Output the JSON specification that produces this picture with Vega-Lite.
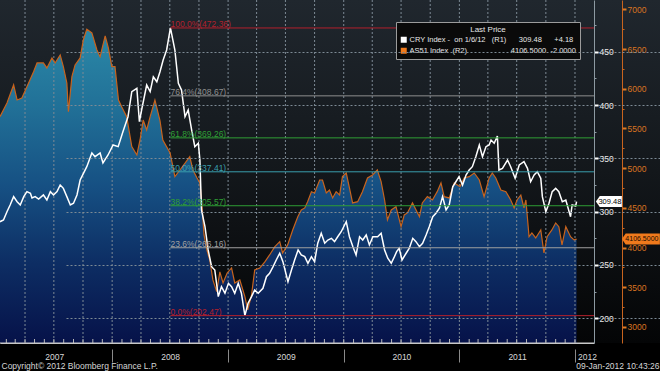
{
  "$schema": "https://vega.github.io/schema/vega-lite/v6.json",
  "width": 660,
  "height": 343,
  "autosize": {"type": "none"},
  "padding": {"left": 0, "top": 0, "right": 0, "bottom": 28},
  "background": "#000000",
  "datasets": {
    "as51": [
      {"date": "2007-01-12", "value": 5649}, {"date": "2007-02-03", "value": 5821}, {"date": "2007-02-24", "value": 6048},
      {"date": "2007-03-07", "value": 5859}, {"date": "2007-03-22", "value": 5884}, {"date": "2007-04-07", "value": 6026},
      {"date": "2007-04-28", "value": 6215}, {"date": "2007-05-09", "value": 6325}, {"date": "2007-05-29", "value": 6325},
      {"date": "2007-06-09", "value": 6262}, {"date": "2007-06-25", "value": 6388}, {"date": "2007-07-05", "value": 6325},
      {"date": "2007-07-21", "value": 6426}, {"date": "2007-07-31", "value": 6278}, {"date": "2007-08-11", "value": 6073},
      {"date": "2007-08-16", "value": 5711}, {"date": "2007-08-27", "value": 6152}, {"date": "2007-09-06", "value": 6300},
      {"date": "2007-09-22", "value": 6388}, {"date": "2007-10-02", "value": 6614}, {"date": "2007-10-13", "value": 6749},
      {"date": "2007-10-29", "value": 6703}, {"date": "2007-11-14", "value": 6489}, {"date": "2007-11-24", "value": 6404},
      {"date": "2007-12-10", "value": 6665}, {"date": "2007-12-20", "value": 6514}, {"date": "2007-12-31", "value": 6278},
      {"date": "2008-01-10", "value": 6278}, {"date": "2008-01-21", "value": 5859}, {"date": "2008-01-31", "value": 5774},
      {"date": "2008-02-16", "value": 5649}, {"date": "2008-03-03", "value": 5271}, {"date": "2008-03-19", "value": 5166},
      {"date": "2008-03-29", "value": 5355}, {"date": "2008-04-08", "value": 5607}, {"date": "2008-04-19", "value": 5481},
      {"date": "2008-04-30", "value": 5649}, {"date": "2008-05-15", "value": 5859}, {"date": "2008-05-31", "value": 5600},
      {"date": "2008-06-09", "value": 5355}, {"date": "2008-07-02", "value": 5191}, {"date": "2008-07-17", "value": 4893},
      {"date": "2008-08-02", "value": 4977}, {"date": "2008-09-02", "value": 5145}, {"date": "2008-09-12", "value": 4977},
      {"date": "2008-09-25", "value": 4877}, {"date": "2008-10-04", "value": 4814}, {"date": "2008-10-10", "value": 4562},
      {"date": "2008-10-17", "value": 4159}, {"date": "2008-10-26", "value": 3970}, {"date": "2008-11-04", "value": 3844},
      {"date": "2008-11-14", "value": 3592}, {"date": "2008-11-26", "value": 3445}, {"date": "2008-12-06", "value": 3693},
      {"date": "2008-12-16", "value": 3554}, {"date": "2008-12-29", "value": 3680}, {"date": "2009-01-12", "value": 3743},
      {"date": "2009-01-22", "value": 3554}, {"date": "2009-02-07", "value": 3592}, {"date": "2009-02-23", "value": 3382},
      {"date": "2009-03-04", "value": 3214}, {"date": "2009-03-16", "value": 3403}, {"date": "2009-03-26", "value": 3718},
      {"date": "2009-04-11", "value": 3743}, {"date": "2009-04-27", "value": 3819}, {"date": "2009-05-12", "value": 3907},
      {"date": "2009-05-28", "value": 4008}, {"date": "2009-06-13", "value": 4074}, {"date": "2009-06-22", "value": 3932},
      {"date": "2009-07-08", "value": 4033}, {"date": "2009-07-24", "value": 4222}, {"date": "2009-08-09", "value": 4389},
      {"date": "2009-08-20", "value": 4473}, {"date": "2009-08-31", "value": 4499}, {"date": "2009-09-09", "value": 4578},
      {"date": "2009-09-21", "value": 4704}, {"date": "2009-10-01", "value": 4688}, {"date": "2009-10-17", "value": 4851},
      {"date": "2009-10-26", "value": 4851}, {"date": "2009-11-07", "value": 4688}, {"date": "2009-11-17", "value": 4725},
      {"date": "2009-11-27", "value": 4625}, {"date": "2009-12-08", "value": 4704}, {"date": "2009-12-19", "value": 4662},
      {"date": "2009-12-28", "value": 4893}, {"date": "2010-01-09", "value": 4939}, {"date": "2010-01-19", "value": 4751},
      {"date": "2010-01-29", "value": 4562}, {"date": "2010-02-14", "value": 4578}, {"date": "2010-03-01", "value": 4704},
      {"date": "2010-03-17", "value": 4877}, {"date": "2010-04-02", "value": 4914}, {"date": "2010-04-17", "value": 4977},
      {"date": "2010-04-29", "value": 4830}, {"date": "2010-05-10", "value": 4599}, {"date": "2010-05-19", "value": 4348},
      {"date": "2010-05-31", "value": 4473}, {"date": "2010-06-15", "value": 4515}, {"date": "2010-07-01", "value": 4263},
      {"date": "2010-07-11", "value": 4411}, {"date": "2010-07-21", "value": 4436}, {"date": "2010-08-06", "value": 4562},
      {"date": "2010-08-28", "value": 4389}, {"date": "2010-09-06", "value": 4562}, {"date": "2010-09-22", "value": 4641},
      {"date": "2010-10-08", "value": 4599}, {"date": "2010-10-23", "value": 4704}, {"date": "2010-11-04", "value": 4814},
      {"date": "2010-11-14", "value": 4641}, {"date": "2010-11-30", "value": 4625}, {"date": "2010-12-16", "value": 4814},
      {"date": "2011-01-03", "value": 4767}, {"date": "2011-01-16", "value": 4877}, {"date": "2011-02-01", "value": 4893},
      {"date": "2011-02-17", "value": 4939}, {"date": "2011-03-05", "value": 4851}, {"date": "2011-03-20", "value": 4641},
      {"date": "2011-04-05", "value": 4877}, {"date": "2011-04-15", "value": 4939}, {"date": "2011-04-26", "value": 4877},
      {"date": "2011-05-12", "value": 4725}, {"date": "2011-05-28", "value": 4704}, {"date": "2011-06-12", "value": 4599},
      {"date": "2011-06-23", "value": 4499}, {"date": "2011-07-02", "value": 4599}, {"date": "2011-07-14", "value": 4662},
      {"date": "2011-07-24", "value": 4499}, {"date": "2011-07-30", "value": 4599}, {"date": "2011-08-09", "value": 4137},
      {"date": "2011-08-18", "value": 4184}, {"date": "2011-08-30", "value": 4121}, {"date": "2011-09-15", "value": 4222},
      {"date": "2011-09-25", "value": 3932}, {"date": "2011-10-05", "value": 4137}, {"date": "2011-10-20", "value": 4222},
      {"date": "2011-11-01", "value": 4310}, {"date": "2011-11-11", "value": 4263}, {"date": "2011-11-21", "value": 4033},
      {"date": "2011-12-03", "value": 4263}, {"date": "2011-12-18", "value": 4137}, {"date": "2011-12-29", "value": 4096},
      {"date": "2012-01-06", "value": 4106.5}
    ],
    "cry": [
      {"date": "2007-01-12", "value": 290.6}, {"date": "2007-01-23", "value": 292.2}, {"date": "2007-02-03", "value": 300.0},
      {"date": "2007-02-13", "value": 306.3}, {"date": "2007-02-24", "value": 314.1}, {"date": "2007-03-07", "value": 309.4},
      {"date": "2007-03-17", "value": 306.3}, {"date": "2007-03-28", "value": 314.1}, {"date": "2007-04-07", "value": 318.8},
      {"date": "2007-04-18", "value": 317.3}, {"date": "2007-04-23", "value": 312.8}, {"date": "2007-05-03", "value": 314.1},
      {"date": "2007-05-14", "value": 311.9}, {"date": "2007-05-29", "value": 315.7}, {"date": "2007-06-09", "value": 311.0},
      {"date": "2007-06-20", "value": 318.8}, {"date": "2007-06-30", "value": 315.7}, {"date": "2007-07-11", "value": 318.8},
      {"date": "2007-07-21", "value": 325.0}, {"date": "2007-07-31", "value": 321.9}, {"date": "2007-08-11", "value": 314.1},
      {"date": "2007-08-22", "value": 306.3}, {"date": "2007-09-01", "value": 307.9}, {"date": "2007-09-12", "value": 315.7},
      {"date": "2007-09-22", "value": 329.7}, {"date": "2007-10-13", "value": 342.2}, {"date": "2007-10-29", "value": 355.1},
      {"date": "2007-11-08", "value": 351.6}, {"date": "2007-11-24", "value": 355.1}, {"date": "2007-12-03", "value": 345.7},
      {"date": "2007-12-19", "value": 353.2}, {"date": "2008-01-04", "value": 362.6}, {"date": "2008-01-20", "value": 361.0},
      {"date": "2008-02-04", "value": 375.0}, {"date": "2008-02-20", "value": 389.1}, {"date": "2008-03-03", "value": 412.6},
      {"date": "2008-03-19", "value": 415.7}, {"date": "2008-03-27", "value": 384.4}, {"date": "2008-04-03", "value": 395.4},
      {"date": "2008-04-19", "value": 418.8}, {"date": "2008-04-30", "value": 412.6}, {"date": "2008-05-10", "value": 426.6},
      {"date": "2008-05-21", "value": 421.9}, {"date": "2008-05-31", "value": 431.3}, {"date": "2008-06-10", "value": 442.3},
      {"date": "2008-06-21", "value": 451.7}, {"date": "2008-07-03", "value": 472.36}, {"date": "2008-07-17", "value": 451.7},
      {"date": "2008-07-28", "value": 420.4}, {"date": "2008-08-07", "value": 414.1}, {"date": "2008-08-18", "value": 389.1},
      {"date": "2008-08-28", "value": 395.4}, {"date": "2008-09-08", "value": 376.6}, {"date": "2008-09-18", "value": 361.0},
      {"date": "2008-09-29", "value": 364.2}, {"date": "2008-10-04", "value": 348.5}, {"date": "2008-10-09", "value": 301.6},
      {"date": "2008-10-20", "value": 285.9}, {"date": "2008-10-30", "value": 264.1}, {"date": "2008-11-10", "value": 248.4},
      {"date": "2008-11-20", "value": 245.3}, {"date": "2008-12-01", "value": 220.3}, {"date": "2008-12-11", "value": 229.6},
      {"date": "2008-12-22", "value": 223.5}, {"date": "2009-01-02", "value": 232.8}, {"date": "2009-01-12", "value": 229.6},
      {"date": "2009-01-22", "value": 223.5}, {"date": "2009-02-02", "value": 232.8}, {"date": "2009-02-12", "value": 223.5},
      {"date": "2009-02-23", "value": 202.47}, {"date": "2009-03-05", "value": 214.1}, {"date": "2009-03-16", "value": 220.3},
      {"date": "2009-03-26", "value": 226.5}, {"date": "2009-04-06", "value": 223.5}, {"date": "2009-04-21", "value": 228.1},
      {"date": "2009-05-02", "value": 239.0}, {"date": "2009-05-12", "value": 242.2}, {"date": "2009-05-23", "value": 248.4},
      {"date": "2009-06-02", "value": 254.7}, {"date": "2009-06-13", "value": 261.0}, {"date": "2009-06-23", "value": 253.1},
      {"date": "2009-07-09", "value": 234.3}, {"date": "2009-07-20", "value": 245.3}, {"date": "2009-07-30", "value": 254.7},
      {"date": "2009-08-10", "value": 264.1}, {"date": "2009-08-20", "value": 259.4}, {"date": "2009-08-31", "value": 257.8},
      {"date": "2009-09-10", "value": 251.6}, {"date": "2009-09-21", "value": 257.8}, {"date": "2009-10-01", "value": 253.1},
      {"date": "2009-10-11", "value": 270.4}, {"date": "2009-10-22", "value": 279.7}, {"date": "2009-11-02", "value": 270.4},
      {"date": "2009-11-12", "value": 273.4}, {"date": "2009-11-23", "value": 275.0}, {"date": "2009-12-03", "value": 271.9},
      {"date": "2009-12-13", "value": 276.5}, {"date": "2009-12-24", "value": 281.2}, {"date": "2010-01-09", "value": 290.6},
      {"date": "2010-01-19", "value": 276.5}, {"date": "2010-01-30", "value": 267.2}, {"date": "2010-02-09", "value": 259.4},
      {"date": "2010-02-20", "value": 276.5}, {"date": "2010-03-02", "value": 273.4}, {"date": "2010-03-13", "value": 278.1},
      {"date": "2010-03-23", "value": 268.8}, {"date": "2010-04-03", "value": 276.5}, {"date": "2010-04-18", "value": 276.5},
      {"date": "2010-04-29", "value": 279.7}, {"date": "2010-05-10", "value": 264.1}, {"date": "2010-05-20", "value": 256.3},
      {"date": "2010-05-31", "value": 251.6}, {"date": "2010-06-10", "value": 257.8}, {"date": "2010-06-17", "value": 262.5},
      {"date": "2010-06-25", "value": 265.7}, {"date": "2010-07-04", "value": 254.7}, {"date": "2010-07-17", "value": 261.0},
      {"date": "2010-07-27", "value": 265.7}, {"date": "2010-08-07", "value": 275.0}, {"date": "2010-08-17", "value": 271.9},
      {"date": "2010-08-28", "value": 267.2}, {"date": "2010-09-07", "value": 270.4}, {"date": "2010-09-18", "value": 278.1},
      {"date": "2010-09-28", "value": 285.9}, {"date": "2010-10-09", "value": 295.3}, {"date": "2010-10-19", "value": 298.5},
      {"date": "2010-10-30", "value": 303.2}, {"date": "2010-11-09", "value": 314.1}, {"date": "2010-11-20", "value": 301.6},
      {"date": "2010-11-30", "value": 306.3}, {"date": "2010-12-11", "value": 323.4}, {"date": "2010-12-21", "value": 328.1},
      {"date": "2010-12-31", "value": 332.8}, {"date": "2011-01-11", "value": 325.0}, {"date": "2011-01-22", "value": 334.4},
      {"date": "2011-02-01", "value": 339.1}, {"date": "2011-02-11", "value": 342.2}, {"date": "2011-02-22", "value": 351.6},
      {"date": "2011-03-05", "value": 362.6}, {"date": "2011-03-15", "value": 351.6}, {"date": "2011-03-26", "value": 361.0},
      {"date": "2011-04-05", "value": 362.6}, {"date": "2011-04-11", "value": 367.2}, {"date": "2011-04-21", "value": 364.2},
      {"date": "2011-05-01", "value": 371.0}, {"date": "2011-05-06", "value": 339.1}, {"date": "2011-05-17", "value": 340.7},
      {"date": "2011-06-02", "value": 348.5}, {"date": "2011-06-12", "value": 342.2}, {"date": "2011-06-26", "value": 331.3},
      {"date": "2011-07-09", "value": 343.8}, {"date": "2011-07-24", "value": 346.9}, {"date": "2011-08-04", "value": 340.7},
      {"date": "2011-08-14", "value": 328.1}, {"date": "2011-08-25", "value": 334.4}, {"date": "2011-09-04", "value": 337.5},
      {"date": "2011-09-15", "value": 331.3}, {"date": "2011-09-20", "value": 314.1}, {"date": "2011-10-01", "value": 300.0},
      {"date": "2011-10-11", "value": 307.9}, {"date": "2011-10-21", "value": 318.8}, {"date": "2011-11-01", "value": 321.9},
      {"date": "2011-11-11", "value": 318.8}, {"date": "2011-11-22", "value": 309.4}, {"date": "2011-12-03", "value": 311.0},
      {"date": "2011-12-18", "value": 295.3}, {"date": "2011-12-23", "value": 306.3}, {"date": "2012-01-03", "value": 305.3},
      {"date": "2012-01-06", "value": 309.48}
    ],
    "fib": [
      {"level": "100.0%", "value": 472.36, "label": "100.0%(472.36)"},
      {"level": "76.4%", "value": 408.67, "label": "76.4%(408.67)"},
      {"level": "61.8%", "value": 369.26, "label": "61.8%(369.26)"},
      {"level": "50.0%", "value": 337.41, "label": "50.0%(337.41)"},
      {"level": "38.2%", "value": 305.57, "label": "38.2%(305.57)"},
      {"level": "23.6%", "value": 266.16, "label": "23.6%(266.16)"},
      {"level": "0.0%", "value": 202.47, "label": "0.0%(202.47)"}
    ],
    "tagCRY": [{"series": "CRY Index", "value": 309.48, "label": "309.48"}],
    "tagAS51": [{"series": "AS51 Index", "value": 4106.5, "label": "4106.5000"}]
  },
  "resolve": {"scale": {"y": "independent"}, "axis": {"x": "independent", "y": "independent"}},
  "layer": [
    {
      "data": {"name": "as51"},
      "mark": {"type": "area", "line": false, "fill": {"gradient": "linear", "x1": 0, "y1": 0, "x2": 0, "y2": 1, "stops": [{"offset": 0, "color": "#2b89a8"}, {"offset": 0.25, "color": "#217097"}, {"offset": 0.5, "color": "#165083"}, {"offset": 0.75, "color": "#0d2d63"}, {"offset": 1, "color": "#061249"}]}},
      "encoding": {
        "x": {"field": "date", "type": "temporal",
          "scale": {"type": "utc", "domain": [{"year": 2007, "month": 1, "date": 12, "utc": true}, {"year": 2012, "month": 3, "date": 1, "utc": true}], "range": [0, 594]},
          "axis": {"orient": "bottom", "ticks": false, "domain": false, "labels": false, "grid": false,
            "title": "Copyright© 2012 Bloomberg Finance L.P.", "titleX": 1, "titleY": 25.5, "titleAlign": "left", "titleBaseline": "alphabetic", "titleColor": "#d6d6d6", "titleFontSize": 8.5, "titleFontWeight": "normal"}},
        "y": {"field": "value", "type": "quantitative",
          "scale": {"domain": [2798, 7118], "zero": false, "nice": false},
          "axis": {"orient": "right", "offset": -38, "values": [3000, 3500, 4000, 4500, 5000, 5500, 6000, 6500, 7000], "grid": false, "domainColor": "#c8641e", "tickColor": "#e07a22", "tickSize": 4, "tickWidth": 2, "labelColor": "#d97421", "labelFontSize": 8.5, "labelPadding": 1, "format": "d", "title": null}},
        "y2": {"datum": 2798}
      }
    },
    {
      "data": {"name": "as51"},
      "transform": [
        {"timeUnit": "utcyearquarter", "field": "date", "as": "quarter"},
        {"aggregate": [{"op": "count", "as": "n"}], "groupby": ["quarter"]}
      ],
      "mark": {"type": "rule", "strokeDash": [2, 2], "color": "#7d8a95", "strokeWidth": 1},
      "encoding": {
        "x": {"field": "quarter", "type": "temporal", "axis": null}
      }
    },
    {
      "data": {"name": "as51"},
      "mark": {"type": "line", "color": "#c8641e", "strokeWidth": 1.2},
      "encoding": {
        "x": {"field": "date", "type": "temporal", "axis": null},
        "y": {"field": "value", "type": "quantitative",
          "scale": {"domain": [2798, 7118], "zero": false, "nice": false},
          "axis": {"orient": "right", "offset": -38, "values": [3250, 3750, 4250, 4750, 5250, 5750, 6250, 6750], "grid": false, "domain": false, "labels": false, "tickColor": "#c8641e", "tickSize": 2, "title": null}}
      }
    },
    {
      "data": {"name": "cry"},
      "mark": {"type": "line", "color": "#ffffff", "strokeWidth": 1.5},
      "encoding": {
        "x": {"field": "date", "type": "temporal", "axis": null},
        "y": {"field": "value", "type": "quantitative",
          "scale": {"domain": [176.8, 498.6], "zero": false, "nice": false},
          "axis": {"orient": "right", "offset": -66, "values": [200, 250, 300, 350, 400, 450], "grid": true, "gridDash": [2, 2], "gridColor": "#7d8a95", "gridOpacity": 1, "domainColor": "#8d9aa2", "tickColor": "#ffffff", "tickSize": 4, "tickWidth": 2, "labelColor": "#e8e8e8", "labelFontSize": 8.5, "labelPadding": 1, "title": null, "zindex": 1}}
      }
    },
    {
      "data": {"name": "fib"},
      "mark": {"type": "rule", "strokeWidth": 1},
      "encoding": {
        "x": {"datum": {"year": 2008, "month": 7, "date": 3, "utc": true}, "type": "temporal",
          "axis": {"orient": "bottom",
            "values": [
              {"year": 2008, "month": 1, "date": 1, "utc": true}, {"year": 2009, "month": 1, "date": 1, "utc": true}, {"year": 2010, "month": 1, "date": 1, "utc": true}, {"year": 2011, "month": 1, "date": 1, "utc": true}, {"year": 2012, "month": 1, "date": 1, "utc": true},
              {"year": 2007, "month": 7, "date": 2, "utc": true}, {"year": 2008, "month": 7, "date": 2, "utc": true}, {"year": 2009, "month": 7, "date": 2, "utc": true}, {"year": 2010, "month": 7, "date": 2, "utc": true}, {"year": 2011, "month": 7, "date": 2, "utc": true}, {"year": 2012, "month": 2, "date": 8, "utc": true}
            ],
            "labelExpr": "utcmonth(datum.value) == 0 && utcdate(datum.value) == 1 ? '' : utcFormat(datum.value, '%Y')",
            "ticks": true, "tickSize": 19, "tickDash": [0, 6, 13, 100], "tickColor": "#8a8a8a", "tickWidth": 1,
            "tickOpacity": {"condition": {"test": "utcmonth(datum.value) == 0 && utcdate(datum.value) == 1", "value": 1}, "value": 0},
            "domain": true, "domainColor": "#c8c8c8", "domainWidth": 1, "grid": false,
            "labelPadding": -10, "labelColor": "#d8d8d8", "labelFontSize": 8.5, "labelFlush": false, "labelOverlap": false, "labelBound": false, "zindex": 1,
            "title": "09-Jan-2012 10:43:26", "titleX": 659, "titleY": 25.5, "titleAlign": "right", "titleBaseline": "alphabetic", "titleColor": "#d6d6d6", "titleFontSize": 8.5, "titleFontWeight": "normal"}},
        "x2": {"datum": {"year": 2012, "month": 3, "date": 1, "utc": true}},
        "y": {"field": "value", "type": "quantitative",
          "scale": {"domain": [176.8, 498.6], "zero": false, "nice": false},
          "axis": {"orient": "right", "offset": -66, "values": [225, 275, 325, 375, 425, 475], "grid": false, "domain": false, "labels": false, "tickColor": "#8d9aa2", "tickSize": 2, "title": null}},
        "color": {"field": "level", "type": "nominal",
          "scale": {"domain": ["100.0%", "76.4%", "61.8%", "50.0%", "38.2%", "23.6%", "0.0%"], "range": ["#b3202c", "#8f8f8f", "#2f9e35", "#3a9ead", "#2f9e35", "#a0a0a0", "#b3202c"]},
          "legend": null}
      }
    },
    {
      "data": {"name": "fib"},
      "mark": {"type": "text", "align": "left", "baseline": "alphabetic", "dy": -1, "fontSize": 8.5},
      "encoding": {
        "x": {"datum": {"year": 2008, "month": 7, "date": 3, "utc": true}, "type": "temporal", "axis": null},
        "y": {"field": "value", "type": "quantitative", "scale": {"domain": [176.8, 498.6], "zero": false, "nice": false}, "axis": null},
        "text": {"field": "label"},
        "color": {"field": "level", "type": "nominal", "legend": null}
      }
    },
    {
      "data": {"name": "as51"},
      "transform": [
        {"timeUnit": "utcyearmonth", "field": "date", "as": "month"},
        {"aggregate": [{"op": "count", "as": "n"}], "groupby": ["month"]}
      ],
      "mark": {"type": "tick", "orient": "vertical", "size": 4, "thickness": 1, "yOffset": -2, "color": "#b8b8b8", "opacity": 1},
      "encoding": {
        "x": {"field": "month", "type": "temporal", "axis": null},
        "y": {"datum": 2798, "type": "quantitative", "scale": {"domain": [2798, 7118], "zero": false, "nice": false}, "axis": null}
      }
    },
    {
      "data": {"name": "tagAS51"},
      "mark": {"type": "rule", "color": "#c8c8c8", "strokeWidth": 1},
      "encoding": {
        "x": {"datum": {"year": 2007, "month": 1, "date": 12, "utc": true}, "type": "temporal", "axis": null},
        "x2": {"datum": {"year": 2012, "month": 3, "date": 1, "utc": true}},
        "y": {"datum": 2798, "type": "quantitative", "scale": {"domain": [2798, 7118], "zero": false, "nice": false}, "axis": null}
      }
    },
    {
      "data": {"name": "tagCRY"},
      "mark": {"type": "point", "filled": true, "opacity": 1, "strokeWidth": 0, "size": 676, "shape": "M-1,0L-0.7,-0.42L1,-0.42L1,0.42L-0.7,0.42Z"},
      "encoding": {
        "x": {"datum": {"year": 2012, "month": 4, "date": 17, "utc": true}, "type": "temporal", "axis": null},
        "y": {"field": "value", "type": "quantitative", "scale": {"domain": [176.8, 498.6], "zero": false, "nice": false}, "axis": null},
        "fill": {"field": "series", "type": "nominal",
          "scale": {"domain": ["CRY Index", "AS51 Index"], "range": ["#ffffff", "#f07a1c"]},
          "legend": {"orient": "none", "legendX": 396, "legendY": 22, "title": "Last Price", "titleAnchor": "middle", "titleColor": "#e8e8e8", "titleFontSize": 8, "titleFontWeight": "normal", "titlePadding": 2,
            "labelColor": "#e8e8e8", "labelFontSize": 7.5, "labelOffset": 2, "labelLimit": 400, "symbolType": "square", "symbolSize": 36, "symbolStrokeWidth": 0,
            "fillColor": "#0a0a0a", "strokeColor": "#9c9c9c", "padding": 4, "rowPadding": 2,
            "labelExpr": "datum.label == 'CRY Index' ? 'CRY Index -\u00a0\u00a0on 1/6/12\u00a0\u00a0\u00a0(R1)\u00a0\u00a0\u00a0\u00a0\u00a0\u00a0309.48\u00a0\u00a0\u00a0\u00a0\u00a0\u00a0+4.18' : 'AS51 Index\u00a0\u00a0(R2)\u00a0\u00a0\u00a0\u00a0\u00a0\u00a0\u00a0\u00a0\u00a0\u00a0\u00a0\u00a0\u00a0\u00a0\u00a0\u00a0\u00a0\u00a0\u00a0\u00a0\u00a04106.5000\u00a0\u00a0-2.0000'"}}
      }
    },
    {
      "data": {"name": "tagCRY"},
      "mark": {"type": "text", "align": "center", "baseline": "middle", "fontSize": 7.5, "color": "#000000", "dx": 1},
      "encoding": {
        "x": {"datum": {"year": 2012, "month": 4, "date": 17, "utc": true}, "type": "temporal", "axis": null},
        "y": {"field": "value", "type": "quantitative", "scale": {"domain": [176.8, 498.6], "zero": false, "nice": false}, "axis": null},
        "text": {"field": "label"}
      }
    },
    {
      "data": {"name": "tagAS51"},
      "mark": {"type": "point", "filled": true, "opacity": 1, "strokeWidth": 0, "size": 1444, "shape": "M-1,0L-0.8,-0.29L1,-0.29L1,0.29L-0.8,0.29Z"},
      "encoding": {
        "x": {"datum": {"year": 2012, "month": 7, "date": 27, "utc": true}, "type": "temporal", "axis": null},
        "y": {"field": "value", "type": "quantitative", "scale": {"domain": [2798, 7118], "zero": false, "nice": false}, "axis": null},
        "fill": {"field": "series", "type": "nominal"}
      }
    },
    {
      "data": {"name": "tagAS51"},
      "mark": {"type": "text", "align": "center", "baseline": "middle", "fontSize": 7, "color": "#1a0a00", "dx": 1},
      "encoding": {
        "x": {"datum": {"year": 2012, "month": 7, "date": 27, "utc": true}, "type": "temporal", "axis": null},
        "y": {"field": "value", "type": "quantitative", "scale": {"domain": [2798, 7118], "zero": false, "nice": false}, "axis": null},
        "text": {"field": "label"}
      }
    }
  ],
  "config": {
    "font": "Liberation Sans",
    "view": {"stroke": null, "fill": {"gradient": "linear", "x1": 0, "y1": 0, "x2": 0, "y2": 1, "stops": [{"offset": 0, "color": "#20272e"}, {"offset": 0.5, "color": "#13171b"}, {"offset": 1, "color": "#040506"}]}},
    "axis": {"labelFont": "Liberation Sans", "titleFont": "Liberation Sans"},
    "legend": {"labelFont": "Liberation Sans", "titleFont": "Liberation Sans"},
    "text": {"font": "Liberation Sans"}
  }
}
